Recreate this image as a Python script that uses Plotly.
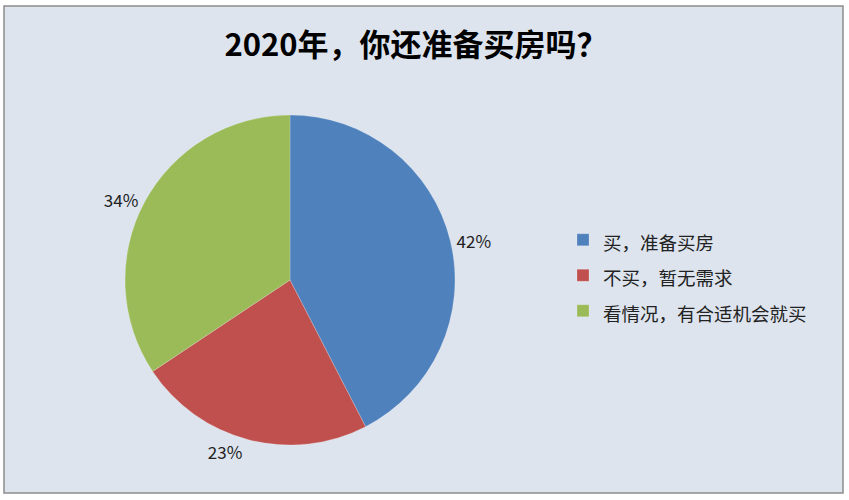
import plotly.graph_objects as go

# answers and share of respondents (%)
answers = ["买，准备买房", "不买，暂无需求", "看情况，有合适机会就买"]
shares = [42, 23, 34]
colors = ["#4f81bd", "#c0504d", "#9bbb59"]

W, H = 849, 500
font_cjk = "Noto Sans CJK SC, Noto Sans, sans-serif"

# legend font is large only to space entries out; the text itself is smaller
legend_names = ["<span style='font-size:18.5px'>%s</span>" % a for a in answers]

fig = go.Figure(go.Pie(
    labels=legend_names,
    values=shares,
    sort=False,
    direction="clockwise",
    rotation=0,
    marker=dict(colors=colors, line=dict(color="rgba(255,255,255,0.4)", width=0.5)),
    texttemplate="%{value}%",
    textposition="outside",
    textfont=dict(family=font_cjk, size=17, color="#222"),
    customdata=answers,
    hovertemplate="%{customdata}: %{value}%<extra></extra>",
    domain=dict(x=[125 / W, 455 / W], y=[1 - 445 / H, 1 - 115 / H]),
))

# chart area box like the Excel original
fig.add_shape(type="rect", xref="paper", yref="paper",
              x0=4 / W, x1=843 / W, y0=1 - 493 / H, y1=1 - 6 / H,
              fillcolor="#dde4ee", line=dict(color="#8c8c8c", width=1.5),
              layer="below")

fig.update_layout(
    width=W, height=H,
    margin=dict(l=0, r=0, t=0, b=0),
    paper_bgcolor="white",
    title=dict(text="<b>2020年，你还准备买房吗？</b>", x=416 / W, xanchor="center",
               y=1 - 45 / H, yanchor="middle",
               font=dict(family=font_cjk, size=31, color="#000")),
    legend=dict(x=563 / W, y=1 - 217 / H, xanchor="left", yanchor="top",
                bgcolor="rgba(0,0,0,0)", itemwidth=30,
                font=dict(family=font_cjk, size=25, color="#222")),
)

fig.write_html("out.html", config={"displayModeBar": False},
               post_script="document.body.style.margin='0';")
